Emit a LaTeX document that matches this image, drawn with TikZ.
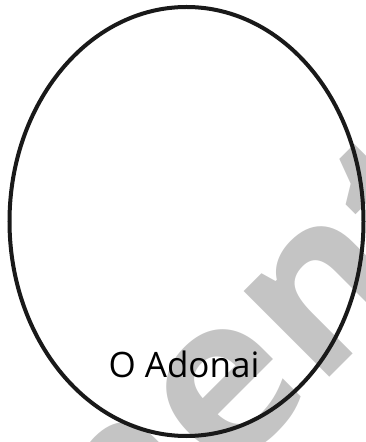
\documentclass[tikz,border=0pt]{standalone}
\usepackage{fontspec}
\usetikzlibrary{shapes.geometric}
\setmainfont{Open Sans}
\newfontfamily\wmfont{Open Sans}
\definecolor{wmgray}{HTML}{C4C4C4}
\begin{document}
\begin{tikzpicture}[x=1pt,y=1pt,
  wm/.style={text=wmgray,font=\wmfont\bfseries\fontsize{222}{222}\selectfont,inner sep=0pt,rotate=45},
  oval/.style={draw=black!90,line width=4pt,ellipse,minimum width=354pt,minimum height=429pt,inner sep=0pt},
  label/.style={font=\fontsize{35}{40}\selectfont,inner sep=0pt,anchor=base}]
\useasboundingbox (0,0) rectangle (366,442);
\clip (0,0) rectangle (366,442);
\coordinate (wmo) at (317,52);
\node[wm,anchor=base east] (wma) at (wmo) {me};
\node[wm,anchor=base west] (wmb) at (wmo) {nt};
\node[oval] (e) at (186.5,220.5) {};
\node[label] (t) at (184,64) {O Adonai};
\end{tikzpicture}
\end{document}
